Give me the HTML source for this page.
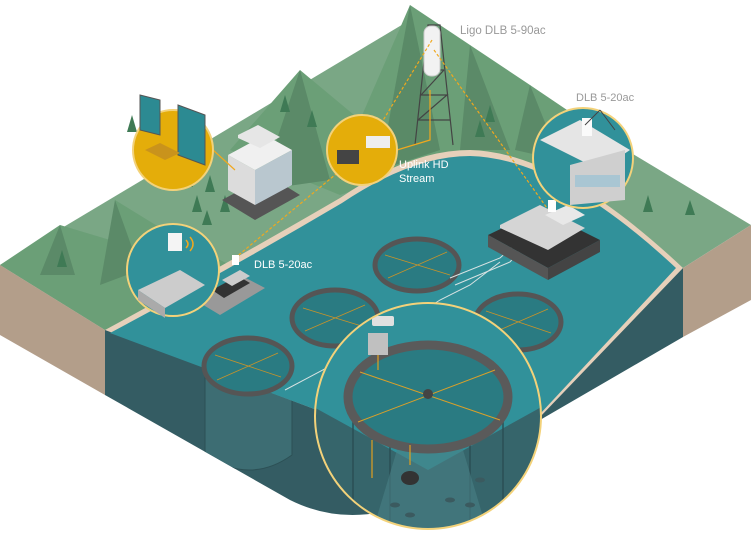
<!DOCTYPE html>
<html><head><meta charset="utf-8"><style>
html,body{margin:0;padding:0;background:#fff;width:751px;height:533px;overflow:hidden}
svg{display:block}
text{font-family:"Liberation Sans",sans-serif}
</style></head><body>
<svg width="751" height="533" viewBox="0 0 751 533" xmlns="http://www.w3.org/2000/svg">
<defs>
<clipPath id="bc"><circle cx="428" cy="416" r="113"/></clipPath>
<clipPath id="dk"><path d="M105,330 L683,268 L683,337 L540,420 L420,500 Q350,530 290,500 L105,395 Z"/></clipPath>
</defs>
<!-- land top -->
<polygon points="0,265 410,20 751,225 683,268 105,330" fill="#7aa785"/>
<!-- mountains -->
<polygon points="230,150 300,70 360,120 410,5 470,45 530,85 570,112 600,135 600,200 470,150 340,195" fill="#6b9f77"/>
<polygon points="300,70 330,180 260,190" fill="#5b8a68"/>
<polygon points="410,5 440,150 380,170" fill="#5a8a67"/>
<polygon points="470,45 510,150 460,150" fill="#5b8a68"/>
<polygon points="530,85 560,160 515,150" fill="#5b8a68"/>
<polygon points="360,120 380,170 340,180" fill="#5b8a68"/>
<polygon points="0,265 60,225 110,240 115,200 180,240 230,265 105,330" fill="#6b9f77"/>
<polygon points="115,200 140,270 100,285" fill="#5b8a68"/>
<polygon points="60,225 75,275 40,275" fill="#5b8a68"/>
<!-- trees -->
<g fill="#3f7a55">
<polygon points="197,195 192,212 202,212"/><polygon points="210,175 205,192 215,192"/><polygon points="188,170 183,187 193,187"/><polygon points="225,195 220,212 230,212"/><polygon points="207,210 202,225 212,225"/><polygon points="285,95 280,112 290,112"/><polygon points="312,110 307,127 317,127"/><polygon points="480,120 475,137 485,137"/><polygon points="490,105 485,122 495,122"/><polygon points="648,195 643,212 653,212"/><polygon points="690,200 685,215 695,215"/><polygon points="62,250 57,267 67,267"/><polygon points="132,115 127,132 137,132"/>
</g>
<!-- brown sides -->
<polygon points="0,265 105,330 105,395 0,335" fill="#b39e8a"/>
<polygon points="683,268 751,225 751,300 683,337" fill="#b39e8a"/>
<!-- dark water faces -->
<path d="M105,330 L683,268 L683,337 L540,420 L420,500 Q350,530 290,500 L105,395 Z" fill="#345c63"/>
<g clip-path="url(#dk)" fill="#3d6d73" stroke="#2c5055" stroke-width="1">
<path d="M205,370 L205,455 Q250,485 292,455 L292,370 Z"/>
<path d="M476,330 L476,400 Q520,420 560,395 L560,330 Z"/>
</g>
<!-- water top with shore -->
<path d="M105,330 Q230,262 340,198 Q410,150 470,150 Q560,152 683,268 L540,417 L430,470 L317,410 Z" fill="#e6d0ba"/>
<path d="M110,333 Q232,268 342,203 Q412,156 470,156 Q558,158 676,268 L540,414 L430,466 L317,410 Z" fill="#31919a"/>
<!-- building -->
<polygon points="222,200 268,175 300,195 255,220" fill="#555"/>
<polygon points="228,155 255,170 255,205 228,190" fill="#dcdcdc"/>
<polygon points="255,170 292,150 292,185 255,205" fill="#b9c7cf"/>
<polygon points="228,155 265,135 292,150 255,170" fill="#f0f0f0"/>
<polygon points="238,135 258,125 280,137 260,148 238,138" fill="#e6e6e6"/>
<!-- tower -->
<g stroke="#444" stroke-width="1.2" fill="none">
<path d="M415,145 L428,25 L440,25 L453,145"/><path d="M418,120 L450,120 M421,95 L447,95 M424,70 L444,70 M418,120 L447,95 L421,95 L444,70"/>
</g>
<rect x="424" y="26" width="16" height="50" rx="7" fill="#f2f2f2" stroke="#ccc"/>
<!-- dashed links -->
<g stroke="#f0a81e" stroke-width="1.2" stroke-dasharray="3,2" fill="none">
<path d="M432,40 L365,150 L235,258"/><path d="M434,50 L552,215"/>
</g>
<path d="M213,150 L235,170 M397,150 L430,140 L430,90" stroke="#f0a81e" stroke-width="1.2" fill="none"/>
<!-- pens -->
<g fill="#2a7b82" stroke="#555" stroke-width="5">
<ellipse cx="417" cy="265" rx="42" ry="26"/>
<ellipse cx="335" cy="318" rx="43" ry="28"/>
<ellipse cx="248" cy="366" rx="44" ry="28"/>
<ellipse cx="518" cy="322" rx="43" ry="28"/>
</g>
<g stroke="#c8932a" stroke-width="0.8">
<path d="M385,255 L450,275 M447,252 L388,278"/><path d="M303,308 L368,328 M365,305 L305,331"/><path d="M215,355 L281,377 M278,353 L217,380"/><path d="M486,311 L551,333 M548,309 L488,335"/>
</g>
<!-- cables -->
<g stroke="#d9e3e3" stroke-width="1" fill="none">
<path d="M285,390 L370,345 L440,300 L470,285 L500,262"/><path d="M450,278 L500,258 L520,240"/><path d="M455,285 L510,262 L525,245"/>
</g>
<!-- barge -->
<polygon points="488,235 540,210 600,240 548,268" fill="#333"/>
<polygon points="488,235 548,268 548,280 488,247" fill="#555"/>
<polygon points="548,268 600,240 600,252 548,280" fill="#444"/>
<polygon points="500,225 540,205 585,228 548,250 500,228" fill="#d5d5d5"/>
<polygon points="545,215 568,205 585,215 563,225" fill="#e8e8e8"/>
<rect x="548" y="200" width="8" height="12" fill="#fff"/>
<!-- small boat -->
<polygon points="195,300 240,275 265,288 220,315" fill="#999"/>
<polygon points="212,290 238,276 250,283 224,298" fill="#333"/>
<polygon points="222,280 240,270 250,276 232,286" fill="#ccc"/>
<rect x="232" y="255" width="7" height="10" fill="#fff"/>
<!-- big circle -->
<g clip-path="url(#bc)">
<rect x="300" y="290" width="260" height="250" fill="#31919a"/>
<path d="M310,405 L428,470 L545,405 L545,540 L310,540 Z" fill="#36656b"/>
<path d="M353,400 L353,520 M503,400 L503,520 M390,440 L390,540 M470,440 L470,540" stroke="#2a4f55" stroke-width="1.5"/>
<polygon points="400,440 460,440 490,540 370,540" fill="#4a8086" opacity="0.6"/>
<ellipse cx="428" cy="397" rx="80" ry="52" fill="#2a7b82" stroke="#5a5a5a" stroke-width="9"/>
<path d="M360,372 L500,420 M495,370 L358,422" stroke="#d9a02a" stroke-width="1"/>
<circle cx="428" cy="394" r="5" fill="#444"/>
<rect x="368" y="333" width="20" height="22" fill="#c0c0c0"/>
<rect x="372" y="316" width="22" height="10" rx="2" fill="#e0e0e0"/>
<path d="M378,355 L378,370 M410,445 L410,465 M372,440 L372,478" stroke="#e0a020" stroke-width="1.2"/>
<ellipse cx="410" cy="478" rx="9" ry="7" fill="#333"/>
<g fill="#3b5a5f"><ellipse cx="450" cy="500" rx="5" ry="2.5"/><ellipse cx="470" cy="505" rx="5" ry="2.5"/><ellipse cx="395" cy="505" rx="5" ry="2.5"/><ellipse cx="480" cy="480" rx="5" ry="2.5"/><ellipse cx="410" cy="515" rx="5" ry="2.5"/></g>
</g>
<circle cx="428" cy="416" r="113" fill="none" stroke="#f3d27a" stroke-width="2"/>
<!-- boat circle -->
<circle cx="173" cy="270" r="46" fill="#31919a" stroke="#f3d27a" stroke-width="2"/>
<polygon points="138,290 180,270 205,285 165,308" fill="#ccc"/>
<polygon points="138,290 165,308 165,318 138,300" fill="#aaa"/>
<rect x="168" y="233" width="14" height="18" fill="#f4f4f4"/>
<path d="M186,240 q4,4 0,8 M190,237 q6,7 0,14" stroke="#f0a81e" fill="none" stroke-width="1.5"/>
<!-- monitor circle -->
<circle cx="173" cy="150" r="40" fill="#e4ad0a" stroke="#f3d27a" stroke-width="2"/>
<polygon points="140,95 160,100 160,135 140,130" fill="#2c8a92" stroke="#555"/>
<polygon points="178,105 205,115 205,165 178,155" fill="#2c8a92" stroke="#555"/>
<polygon points="145,150 165,160 180,153 160,143" fill="#c9931c"/>
<!-- nvr circle -->
<circle cx="362" cy="150" r="35" fill="#e4ad0a" stroke="#f3d27a" stroke-width="2"/>
<rect x="337" y="150" width="22" height="14" fill="#444"/>
<rect x="366" y="136" width="24" height="12" fill="#eee"/>
<!-- right circle -->
<circle cx="583" cy="158" r="50" fill="#31919a" stroke="#f3d27a" stroke-width="2"/>
<polygon points="540,140 580,120 630,150 600,170" fill="#e5e5e5"/>
<polygon points="570,165 625,150 625,200 570,205" fill="#cfcfcf"/>
<rect x="575" y="175" width="45" height="12" fill="#a9c6d3"/>
<rect x="582" y="118" width="10" height="18" fill="#fafafa"/>
<path d="M585,125 L600,110 M600,110 L615,130" stroke="#444"/>
<!-- labels -->
<text x="460" y="34" font-size="11.5" fill="#999">Ligo DLB 5-90ac</text>
<text x="576" y="101" font-size="11" fill="#999">DLB 5-20ac</text>
<text x="399" y="168" font-size="11" fill="#fff">Uplink HD</text>
<text x="399" y="182" font-size="11" fill="#fff">Stream</text>
<text x="254" y="268" font-size="11" fill="#fff">DLB 5-20ac</text>
</svg>
</body></html>
